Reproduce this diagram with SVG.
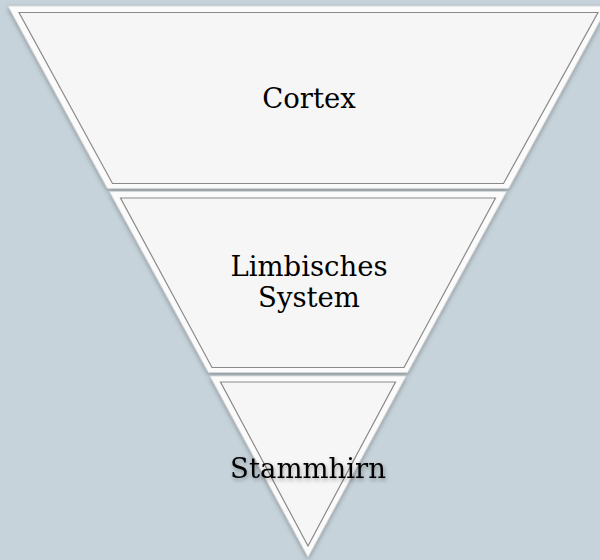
<svg xmlns="http://www.w3.org/2000/svg" width="600" height="560" viewBox="0 0 600 560">
<defs>
<filter id="sh" x="-10%" y="-10%" width="120%" height="120%">
<feDropShadow dx="0" dy="2" stdDeviation="2.5" flood-color="#000" flood-opacity="0.3"/>
</filter>
<filter id="tsh" x="-10%" y="-30%" width="120%" height="160%">
<feDropShadow dx="1" dy="2" stdDeviation="2" flood-color="#000" flood-opacity="0.35"/>
</filter>
</defs>
<style>
.outer{fill:#fbfbfb;stroke:#d6d6d6;stroke-width:0.8;filter:url(#sh)}
.inner{fill:#f6f6f6;stroke:#8a8a8a;stroke-width:1.2}
.lbl{font-family:"DejaVu Serif","Liberation Serif",serif;font-size:27.5px;fill:#000;text-anchor:middle}
</style>
<rect width="600" height="560" fill="#c6d3da"/>
<g id="connectors"></g>
<g id="cortex">
<polygon class="outer" points="8,6 608,6 508.5,188.5 107.5,188.5"/>
<polygon class="inner" points="19,12.5 598,12.5 503.5,183.5 112.5,183.5"/>
<text class="lbl" x="309" y="108">Cortex</text>
</g>
<g id="limbisches-system">
<polygon class="outer" points="109.5,191.5 506.5,191.5 407.5,372.5 208.5,372.5"/>
<polygon class="inner" points="120.5,198 495.5,198 404,367.5 212,367.5"/>
<text class="lbl" x="309" y="276">Limbisches</text>
<text class="lbl" x="309" y="307">System</text>
</g>
<g id="stammhirn">
<polygon class="outer" points="210,376 406,376 308,557"/>
<polygon class="inner" points="220.5,382 395.5,382 308,546"/>
<text class="lbl" x="308" y="478" filter="url(#tsh)">Stammhirn</text>
</g>
</svg>
